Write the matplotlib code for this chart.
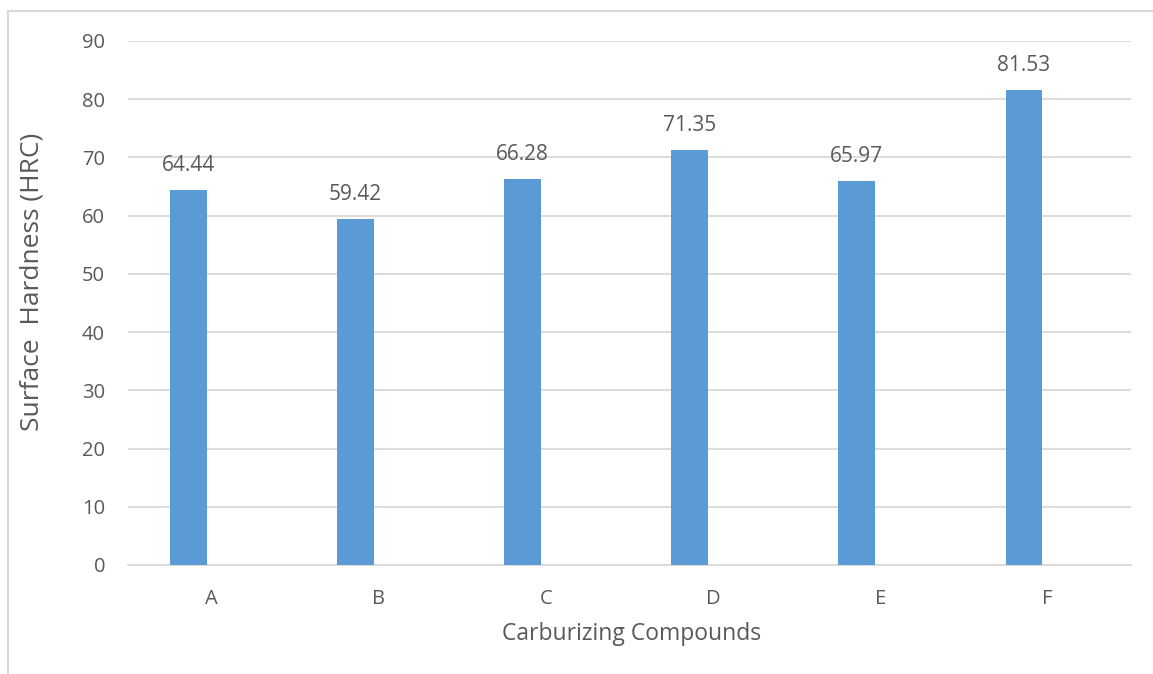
import matplotlib
matplotlib.use('Agg')
import matplotlib.pyplot as plt
import numpy as np
from matplotlib.patches import Rectangle

plt.rcParams['font.family'] = ['Open Sans', 'DejaVu Sans']

compounds = ["A", "B", "C", "D", "E", "F"]
hardness = [64.44, 59.42, 66.28, 71.35, 65.97, 81.53]
y_ticks = [0, 10, 20, 30, 40, 50, 60, 70, 80, 90]

TEXT = '#595959'
BAR = '#5B9BD5'
GRID = '#D9D9D9'

W, H = 1153, 674
fig = plt.figure(figsize=(W / 100, H / 100), dpi=100)

# outer chart frame (cut off at right/bottom like the screenshot)
fig.patches.append(Rectangle((8 / W, -0.1), 1.2, 1 - 11 / H + 0.1, transform=fig.transFigure,
                             fill=False, edgecolor=GRID, linewidth=1.5))

ax = fig.add_axes([128 / W, 1 - 565 / H, (1131 - 128) / W, (565 - 41) / H])

x = np.arange(len(compounds))
bars = ax.bar(x - 0.14, hardness, width=0.22, color=BAR, zorder=3)
ax.bar_label(bars, labels=[f'{v:.2f}' for v in hardness], padding=10,
             color=TEXT, fontsize=15)

ax.set_xlim(-0.5, len(compounds) - 0.5)
ax.set_ylim(0, 90)
ax.set_yticks(y_ticks)
ax.set_xticks(x)
ax.set_xticklabels(compounds)
ax.tick_params(axis='both', length=0, colors=TEXT, labelsize=14.5)
ax.tick_params(axis='y', pad=16.5)
ax.tick_params(axis='x', pad=17)

ax.grid(axis='y', color=GRID, linewidth=1.3, zorder=0)
for s in ['top', 'right', 'left']:
    ax.spines[s].set_visible(False)
ax.spines['bottom'].set_color(GRID)
ax.spines['bottom'].set_linewidth(1.3)

fig.text(32 / W, 1 - 282 / H, 'Surface  Hardness (HRC)', rotation=90, color=TEXT,
         fontsize=19, ha='center', va='center')
fig.text(632 / W, 1 - 634 / H, 'Carburizing Compounds', color=TEXT,
         fontsize=16.5, ha='center', va='center')

fig.savefig('out.png', dpi=100)
